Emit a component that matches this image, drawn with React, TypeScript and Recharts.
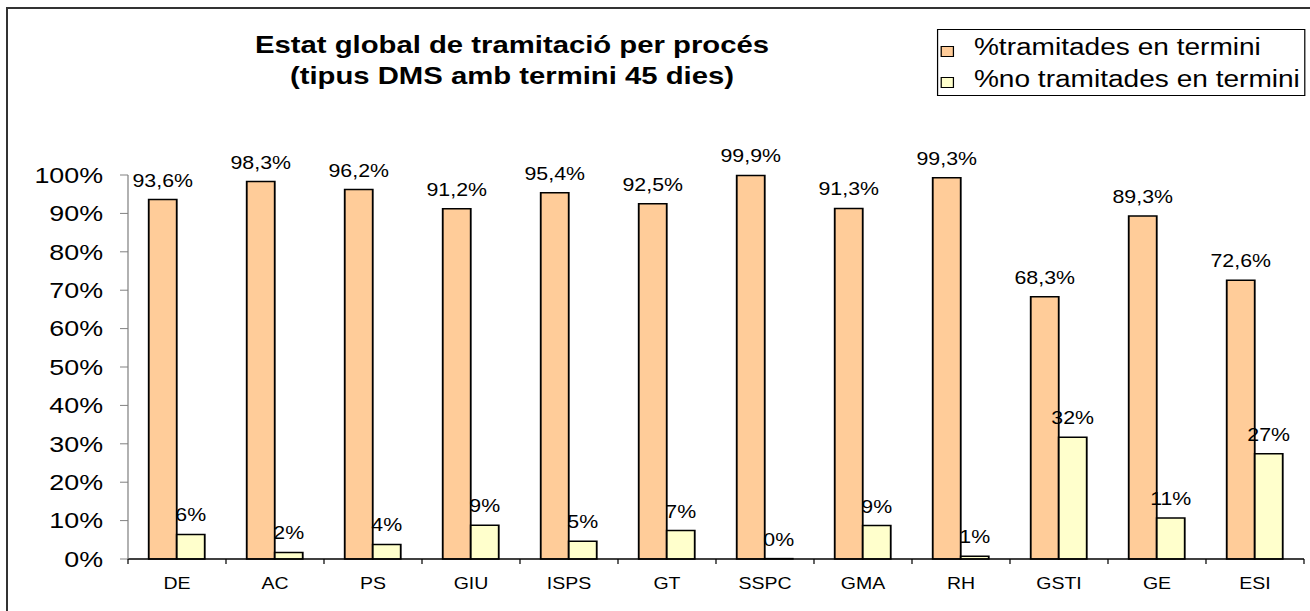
import React from 'react';
import { BarChart, Bar, XAxis, YAxis, Legend, LabelList } from 'recharts';

// the reference chart is horizontally stretched, so the whole chart is drawn narrower and scaled in x
const S = 1.22;
const W = 1310 / S;
const H = 611;
const FONT = '"Liberation Sans", Arial, Helvetica, sans-serif';

const CATEGORIES = ['DE', 'AC', 'PS', 'GIU', 'ISPS', 'GT', 'SSPC', 'GMA', 'RH', 'GSTI', 'GE', 'ESI'];
const EN_TERMINI = [93.6, 98.3, 96.2, 91.2, 95.4, 92.5, 99.9, 91.3, 99.3, 68.3, 89.3, 72.6];
const NO_TERMINI = [6.4, 1.7, 3.8, 8.8, 4.6, 7.4, 0.1, 8.7, 0.7, 31.7, 10.7, 27.4];
const Y_TICKS = [0, 10, 20, 30, 40, 50, 60, 70, 80, 90, 100];
const SERIES = [
  { key: 'enTermini', name: '%tramitades en termini', color: '#FFCC99' },
  { key: 'noTermini', name: '%no tramitades en termini', color: '#FFFFCC' },
];

const data = CATEGORIES.map((c, i) => ({ cat: c, enTermini: EN_TERMINI[i], noTermini: NO_TERMINI[i] }));

const PLOT_LEFT = 128 / S;
const PLOT_RIGHT = 1304 / S;
const BAND_HALF = (PLOT_RIGHT - PLOT_LEFT) / CATEGORIES.length / 2;

const fmtDec = (v: number) => v.toFixed(1).replace('.', ',') + '%';
const fmtInt = (v: number) => Math.round(v) + '%';

const makeLabel = (fmt: (v: number) => string) => (props: any) => {
  const x = Number(props.x);
  const y = Number(props.y);
  const w = Number(props.width);
  return (
    <text x={x + w / 2} y={y - 13} textAnchor="middle" fontSize={17.5} fontFamily={FONT} fill="#000">
      {fmt(Number(props.value))}
    </text>
  );
};

const XTick = (props: any) => {
  const { x, y, payload, index } = props;
  const half = payload && payload.offset ? payload.offset : BAND_HALF;
  const last = index === CATEGORIES.length - 1;
  return (
    <g>
      <line x1={x - half} x2={x - half} y1={y - 19} y2={y - 14} stroke="#000" strokeWidth={1} />
      {last && <line x1={x + half} x2={x + half} y1={y - 19} y2={y - 14} stroke="#000" strokeWidth={1} />}
      <text x={x} y={y} dy="0.71em" textAnchor="middle" fontSize={16} fontFamily={FONT} fill="#000">
        {payload.value}
      </text>
    </g>
  );
};

const LegendBox = () => (
  <div
    style={{
      position: 'relative',
      width: 369 / S,
      height: 67,
      border: '1px solid #000',
      boxSizing: 'border-box',
      background: '#fff',
      fontFamily: FONT,
      fontSize: 23,
      color: '#000',
    }}
  >
    {SERIES.map((s, i) => (
      <React.Fragment key={s.key}>
        <div
          style={{
            position: 'absolute',
            left: 2.5,
            top: 16 + i * 31,
            width: 13 / S,
            height: 10.5,
            border: '1px solid #000',
            boxSizing: 'border-box',
            background: s.color,
          }}
        />
        <div
          style={{
            position: 'absolute',
            left: 29.5,
            top: 6 + i * 32,
            lineHeight: '22px',
            whiteSpace: 'nowrap',
          }}
        >
          {s.name}
        </div>
      </React.Fragment>
    ))}
  </div>
);

export default function App() {
  return (
    <div style={{ position: 'absolute', left: 0, top: 0, width: 1310, height: H, background: '#fff', overflow: 'hidden' }}>
      <div
        style={{
          position: 'absolute',
          left: 6,
          top: 7,
          width: 1320,
          height: 620,
          border: '2px solid #333',
          boxSizing: 'border-box',
        }}
      />
      <div style={{ position: 'absolute', left: 0, top: 0, width: W, height: H, transform: `scaleX(${S})`, transformOrigin: '0 0' }}>
        <div
          style={{
            position: 'absolute',
            left: 512 / S - 300,
            top: 28.5,
            width: 600,
            textAlign: 'center',
            fontFamily: FONT,
            fontWeight: 'bold',
            fontSize: 24,
            lineHeight: '31px',
            color: '#000',
          }}
        >
          <div>Estat global de tramitació per procés</div>
          <div>(tipus DMS amb termini 45 dies)</div>
        </div>
        <BarChart
          width={W}
          height={H}
          data={data}
          margin={{ top: 175, right: W - PLOT_RIGHT, bottom: 0, left: 0 }}
          barGap={0}
          barSize={28 / S}
        >
          <XAxis
            dataKey="cat"
            height={52}
            interval={0}
            tickLine={false}
            tickSize={5}
            tickMargin={14}
            axisLine={{ stroke: '#000', strokeWidth: 1.5 }}
            tick={<XTick />}
          />
          <YAxis
            width={PLOT_LEFT}
            domain={[0, 100]}
            ticks={Y_TICKS}
            interval={0}
            tickFormatter={(v: number) => v + '%'}
            tickSize={8 / S}
            tickMargin={17 / S}
            axisLine={{ stroke: '#808080' }}
            tickLine={{ stroke: '#808080' }}
            tick={{ fontSize: 22, fontFamily: FONT, fill: '#000' }}
          />
          <Legend
            layout="vertical"
            align="center"
            verticalAlign="middle"
            content={<LegendBox />}
            wrapperStyle={{ position: 'absolute', left: 936.7 / S, top: 29.3, width: 369 / S, height: 67 }}
          />
          <Bar dataKey="enTermini" name={SERIES[0].name} fill={SERIES[0].color} stroke="#000" strokeWidth={1.5} isAnimationActive={false}>
            <LabelList dataKey="enTermini" content={makeLabel(fmtDec)} />
          </Bar>
          <Bar dataKey="noTermini" name={SERIES[1].name} fill={SERIES[1].color} stroke="#000" strokeWidth={1.5} isAnimationActive={false}>
            <LabelList dataKey="noTermini" content={makeLabel(fmtInt)} />
          </Bar>
        </BarChart>
      </div>
    </div>
  );
}
